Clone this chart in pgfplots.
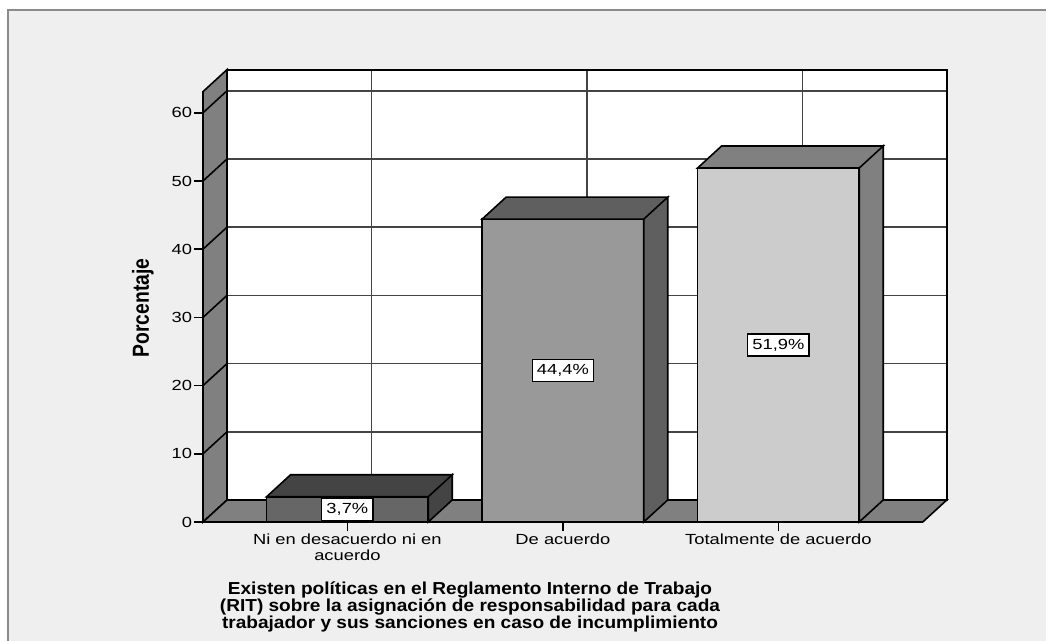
\documentclass[border=0pt]{standalone}
\usepackage{graphicx}
\usepackage{pgfplots}
\pgfplotsset{compat=1.18}
\usepackage{pgfplotstable}
\usepackage{fontspec}
\setmainfont{Liberation Sans}[FakeStretch=1.25]
\newfontfamily\ylabfont{Liberation Sans}
\newfontfamily\titlefont{Liberation Sans}[FakeStretch=1.1]

\definecolor{framebg}{HTML}{EFEFEF}
\definecolor{frameline}{HTML}{8A8A8A}
\definecolor{wall}{HTML}{808080}
\definecolor{gridc}{HTML}{444444}
\definecolor{faceA}{HTML}{666666}
\definecolor{sideA}{HTML}{444444}
\definecolor{faceB}{HTML}{999999}
\definecolor{sideB}{HTML}{5F5F5F}
\definecolor{faceC}{HTML}{CCCCCC}
\definecolor{sideC}{HTML}{808080}

% one small table per bar
\pgfplotstableread{
x y
0 3.7
}\barA
\pgfplotstableread{
x y
1 44.4
}\barB
\pgfplotstableread{
x y
2 51.9
}\barC

% top and right side of a bar, drawn from the top centre of its front face
% bar half width 60.61pt, depth (18pt,16.5pt), 5.115pt per percent
\newcommand\declareboxmark[2]{%
  \pgfdeclareplotmark{#1}{%
    \pgfmathsetlengthmacro\bh{\rawy*5.115pt}%
    \pgfsetlinewidth{1.2pt}%
    \pgfsetmiterjoin
    \pgfsetstrokecolor{black}%
    \pgfsetfillcolor{#2}%
    \pgfpathmoveto{\pgfpoint{-60.61pt}{0pt}}%
    \pgfpathlineto{\pgfpoint{-42.61pt}{16.5pt}}%
    \pgfpathlineto{\pgfpoint{78.61pt}{16.5pt}}%
    \pgfpathlineto{\pgfpoint{60.61pt}{0pt}}%
    \pgfpathclose
    \pgfpathmoveto{\pgfpoint{60.61pt}{0pt}}%
    \pgfpathlineto{\pgfpoint{78.61pt}{16.5pt}}%
    \pgfpathlineto{\pgfpoint{78.61pt}{16.5pt-\bh}}%
    \pgfpathlineto{\pgfpoint{60.61pt}{-\bh}}%
    \pgfpathclose
    \pgfusepath{fill,stroke}%
  }%
}
\declareboxmark{boxA}{sideA}
\declareboxmark{boxB}{sideB}
\declareboxmark{boxC}{sideC}

\pgfplotsset{
  box3d/.style={
    x=161.625pt, y=5.115pt,
    xmin=-0.67, xmax=2.67, ymin=0, ymax=63.1,
    clip=false,
  },
  front bar/.style={
    ybar, bar width=121.22pt, bar shift=0pt,
    draw=black, line width=1.2pt,
    point meta=\thisrow{y},
    visualization depends on={\thisrow{y} \as \rawy},
    nodes near coords={\pgfmathprintnumber[fixed, fixed zerofill, precision=1, use comma]{\pgfplotspointmeta}\%},
    every node near coord/.append style={
      anchor=center, yshift={-0.5*\rawy*5.115pt},
      draw=black, fill=white, line width=0.9pt, text=black,
      inner xsep=3.5pt, inner ysep=3.5pt, text height=8pt, text depth=1.5pt,
      font=\fontsize{11}{12}\selectfont},
  },
  box top/.style={
    scatter, only marks, mark=#1,
    scatter/@pre marker code/.code={}, scatter/@post marker code/.code={},
    visualization depends on={\thisrow{y} \as \rawy},
  },
}

\begin{document}
\begin{tikzpicture}
% page and frame
\path[use as bounding box, fill=white] (-152.25pt,-89.25pt) rectangle (632.25pt,391.5pt);
\fill[framebg] (-146.25pt,-89.25pt) rectangle (632.25pt,384pt);
\draw[frameline, line width=1.5pt] (-146.25pt,-89.25pt) -- (-146.25pt,384pt) -- (632.25pt,384pt);

% back wall
\begin{axis}[box3d, xshift=18pt, yshift=16.5pt,
  axis background/.style={fill=white},
  xtick={0,1,2}, ytick={0,10,...,60},
  xticklabels={}, yticklabels={},
  major tick length=0pt,
  grid=major, grid style={gridc, line width=1.3pt},
  axis line style={black, line width=1.3pt}]
\end{axis}

% front: side wall, floor, bars
\begin{axis}[box3d,
  axis line style={draw=none},
  xtick pos=bottom, ytick pos=left,
  xtick={0,1,2},
  xticklabels={{Ni en desacuerdo ni en\\acuerdo}, {De acuerdo}, {Totalmente de acuerdo}},
  ytick={0,10,...,60},
  tick align=outside, major tick length=7pt,
  tick style={black, line width=1.2pt},
  /pgf/number format/assume math mode=true,
  yticklabel style={font=\fontsize{11}{12}\selectfont, inner sep=1pt},
  xticklabel style={font=\fontsize{11}{11.5}\selectfont, align=center, inner sep=1pt, yshift=-1pt},
  ylabel={\scalebox{1}[1.2]{\ylabfont\bfseries\fontsize{14.5}{16}\selectfont Porcentaje}},
  every axis y label/.style={at={(axis cs:-0.67,31.4)}, xshift=-45pt, anchor=center, rotate=90},
  xlabel={Existen políticas en el Reglamento Interno de Trabajo\\(RIT) sobre la asignación de responsabilidad para cada\\trabajador y sus sanciones en caso de incumplimiento},
  every axis x label/.style={at={(axis cs:0.569,-12.4)}, anchor=center, align=center,
    font=\titlefont\bfseries\fontsize{13}{12.75}\selectfont},
]
\fill[wall, draw=black, line width=1.2pt]
  (axis cs:-0.67,0) -- (axis cs:-0.67,63.1) -- ++(18pt,16.5pt)
  -- ([shift={(18pt,16.5pt)}]axis cs:-0.67,0) -- cycle;
\pgfplotsinvokeforeach{10,20,...,60}{
  \draw[black, line width=1.2pt] (axis cs:-0.67,#1) -- ++(18pt,16.5pt);
}
\fill[wall, draw=black, line width=1.2pt]
  (axis cs:-0.67,0) -- (axis cs:2.67,0) -- ++(18pt,16.5pt)
  -- ([shift={(18pt,16.5pt)}]axis cs:-0.67,0) -- cycle;

\addplot[front bar, fill=faceA] table[x=x, y=y] {\barA};
\addplot[box top=boxA] table[x=x, y=y] {\barA};
\addplot[front bar, fill=faceB] table[x=x, y=y] {\barB};
\addplot[box top=boxB] table[x=x, y=y] {\barB};
\addplot[front bar, fill=faceC] table[x=x, y=y] {\barC};
\addplot[box top=boxC] table[x=x, y=y] {\barC};
\end{axis}
\end{tikzpicture}
\end{document}
